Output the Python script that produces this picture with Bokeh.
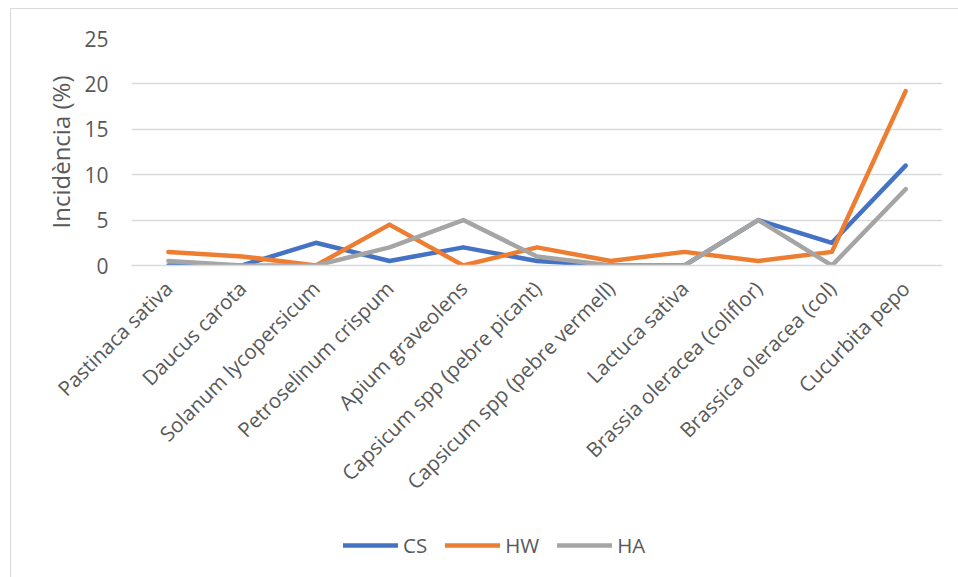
import math
from bokeh.plotting import figure
from bokeh.layouts import column
from bokeh.models import Legend, LegendItem, FactorRange, Range1d, FixedTicker
from bokeh.embed import file_html
from bokeh.resources import INLINE

# Crop species and disease incidence (%) per sampling group
categories = [
    "Pastinaca sativa",
    "Daucus carota",
    "Solanum lycopersicum",
    "Petroselinum crispum",
    "Apium graveolens",
    "Capsicum spp (pebre picant)",
    "Capsicum spp (pebre vermell)",
    "Lactuca sativa",
    "Brassia oleracea (coliflor)",
    "Brassica oleracea (col)",
    "Cucurbita pepo",
]
cs = [0, 0, 2.5, 0.5, 2, 0.5, 0, 0, 5, 2.5, 11]
hw = [1.5, 1, 0, 4.5, 0, 2, 0.5, 1.5, 0.5, 1.5, 19.2]
ha = [0.5, 0, 0, 2, 5, 1, 0, 0, 5, 0, 8.4]
y_ticks = [0, 5, 10, 15, 20, 25]

series_names = ["CS", "HW", "HA"]
series_values = [cs, hw, ha]
series_colors = ["#4472c4", "#ed7d31", "#a5a5a5"]

FONT = "Open Sans"
TXT = "#595959"
GRID = "#d9d9d9"
EDGE = "1px solid #d9d9d9"

# ---- main chart ----
p = figure(
    x_range=FactorRange(factors=categories, range_padding=0),
    y_range=Range1d(0, 25),
    width=948, height=500,
    margin=(8, 0, 0, 10),
    min_border_left=120, min_border_right=17,
    min_border_top=29, min_border_bottom=244,
    output_backend="svg", toolbar_location=None,
    styles={"border-left": EDGE, "border-top": EDGE},
)
p.outline_line_color = None

p.yaxis.ticker = FixedTicker(ticks=y_ticks)
p.yaxis.axis_line_color = None
p.yaxis.major_tick_line_color = None
p.yaxis.minor_tick_line_color = None
p.yaxis.major_label_text_font = FONT
p.yaxis.major_label_text_font_size = "21px"
p.yaxis.major_label_text_color = TXT
p.yaxis.major_label_standoff = 17
p.yaxis.axis_label = "Incidència (%)"
p.yaxis.axis_label_text_font = FONT
p.yaxis.axis_label_text_font_size = "24px"
p.yaxis.axis_label_text_font_style = "normal"
p.yaxis.axis_label_text_color = TXT
p.yaxis.axis_label_standoff = 4

p.xaxis.axis_line_color = GRID
p.xaxis.axis_line_width = 1.3
p.xaxis.major_tick_line_color = None
p.xaxis.minor_tick_line_color = None
p.xaxis.major_label_orientation = math.pi / 4
p.xaxis.major_label_text_font = FONT
p.xaxis.major_label_text_font_size = "20.5px"
p.xaxis.major_label_text_color = TXT
p.xaxis.major_label_standoff = 13

p.xgrid.grid_line_color = None
p.ygrid.grid_line_color = GRID
p.ygrid.grid_line_width = 1.3

for vals, color in zip(series_values, series_colors):
    p.line(categories, vals, line_color=color, line_width=4.5,
           line_join="round", line_cap="round")

# ---- legend strip under the chart ----
lg = figure(
    x_range=Range1d(0, 1), y_range=Range1d(0, 1),
    width=948, height=69,
    margin=(0, 0, 0, 10),
    min_border=0, min_border_left=0, min_border_right=0,
    min_border_top=0, min_border_bottom=0,
    output_backend="svg", toolbar_location=None,
    styles={"border-left": EDGE},
)
lg.axis.visible = False
lg.grid.visible = False
lg.outline_line_color = None

items = []
for name, color in zip(series_names, series_colors):
    # off-range stub so only the legend swatch is visible
    r = lg.line(x=[-2, -1], y=[-2, -1], line_color=color, line_width=4.5,
                line_cap="round")
    items.append(LegendItem(label=name, renderers=[r]))

legend = Legend(
    items=items,
    orientation="horizontal",
    location=(212, 18),
    glyph_width=55, glyph_height=20,
    label_standoff=5, spacing=18,
    padding=0, margin=0,
    label_text_font=FONT, label_text_font_size="20.5px", label_text_color=TXT,
    border_line_color=None, background_fill_alpha=0,
)
lg.add_layout(legend, "center")

layout = column(p, lg, spacing=0)
open("out.html", "w").write(file_html(layout, INLINE))
